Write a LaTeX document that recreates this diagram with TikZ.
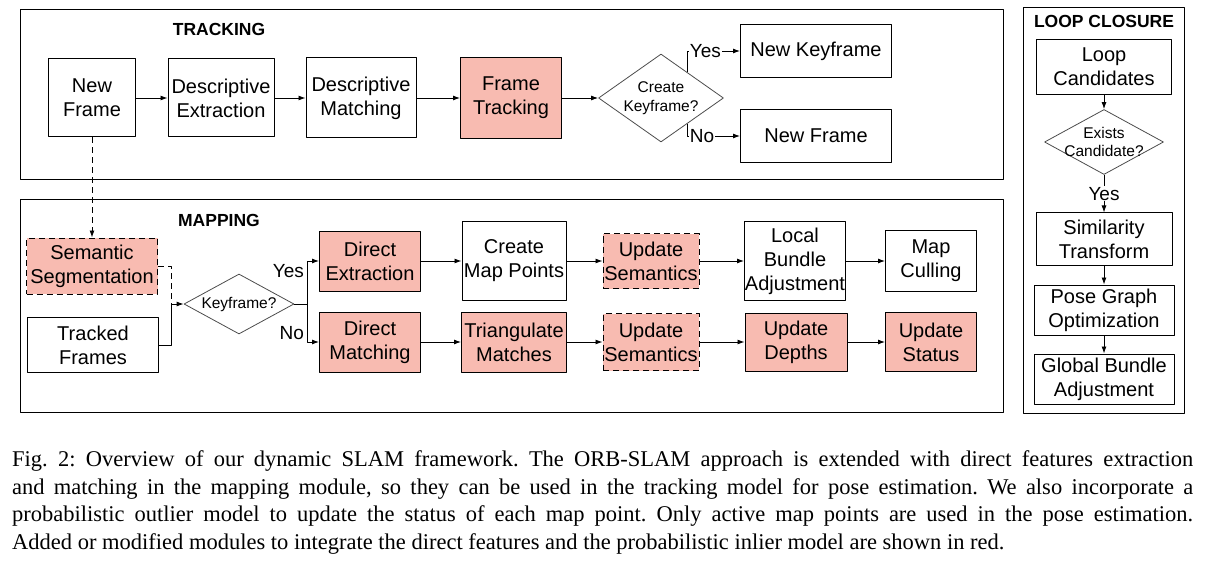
\documentclass[tikz,border=0pt]{standalone}
\usepackage{fontspec}
\setmainfont{Liberation Serif}
\setsansfont{Liberation Sans}
\usetikzlibrary{shapes.geometric,arrows.meta,calc}

\definecolor{modred}{RGB}{248,187,177}
\frenchspacing

\begin{document}
\begin{tikzpicture}[x=1pt,y=-1pt, line join=round, >={Latex[length=7pt,width=5pt]}]
	\tikzset{blk/.style={draw, line width=1pt, align=center, inner sep=0pt, font=\sffamily\fontsize{20}{24}\selectfont},
		mod/.style={blk, fill=modred},
		semblk/.style={mod, dash pattern=on 6pt off 4pt},
		dec/.style={diamond, draw=black!70, line width=0.8pt, inner sep=0pt},
		dectext/.style={align=center, inner sep=0pt, font=\sffamily\fontsize{15.5}{18.5}\selectfont},
		lbl/.style={font=\sffamily\fontsize{19}{22}\selectfont, inner sep=1pt},
		sec/.style={font=\sffamily\bfseries\fontsize{17.5}{20}\selectfont},
		frm/.style={draw, line width=1pt},
		conn/.style={->, line width=0.9pt}}
	\useasboundingbox (0,0) rectangle (1207,564);
	% tracking
	\draw[frm] (20,10) rectangle (1003,180);
	\node[sec] (trk) at (219,29) {TRACKING};
	\node[blk, minimum width=87, minimum height=78] (nf) at (92,98) {New\\Frame};
	\node[blk, minimum width=106, minimum height=78] (dx) at (221,98) {Descriptive\\Extraction};
	\node[blk, minimum width=110, minimum height=80] (dmt) at (361,98) {Descriptive\\Matching};
	\node[mod, minimum width=101, minimum height=81] (ft) at (511,98) {Frame\\Tracking};
	\node[dec, minimum width=125, minimum height=88] (ck) at (661,98) {};
	\node[dectext] (ckt) at (ck) {Create\\Keyframe?};
	\node[blk, minimum width=151, minimum height=53] (nk) at (816,51) {New Keyframe};
	\node[blk, minimum width=151, minimum height=53] (nf2) at (816,136) {New Frame};
	\draw[conn] (nf) -- (dx);
	\draw[conn] (dx) -- (dmt);
	\draw[conn] (dmt) -- (ft);
	\draw[conn] (ft) -- (ck);
	\draw[conn] ($(ck.north)!0.42!(ck.east)$) |- node[lbl, fill=white, pos=0.5, anchor=west, xshift=1pt]{Yes} (nk.west);
	\draw[conn] ($(ck.south)!0.42!(ck.east)$) |- node[lbl, fill=white, pos=0.5, anchor=west, xshift=1pt]{No} (nf2.west);
	% mapping
	\draw[frm] (20,200) rectangle (1003,412);
	\node[sec] (mpg) at (219,220) {MAPPING};
	\node[semblk, minimum width=131, minimum height=56] (ss) at (92,266) {Semantic\\Segmentation};
	\node[blk, minimum width=131, minimum height=55] (tf) at (93,345) {Tracked\\Frames};
	\node[dec, minimum width=110, minimum height=60] (kf) at (239,304) {};
	\node[dectext] (kft) at (kf) {Keyframe?};
	\node[mod, minimum width=101, minimum height=60] (de) at (370,261) {Direct\\Extraction};
	\node[mod, minimum width=101, minimum height=60] (dm) at (370,342) {Direct\\Matching};
	\node[blk, minimum width=104, minimum height=78] (cmp) at (514,261) {Create\\Map Points};
	\node[mod, minimum width=105, minimum height=60] (tm) at (514,342) {Triangulate\\Matches};
	\node[semblk, minimum width=96, minimum height=55] (us1) at (651,261) {Update\\Semantics};
	\node[semblk, minimum width=96, minimum height=57] (us2) at (651,342) {Update\\Semantics};
	\node[blk, minimum width=101, minimum height=78] (lba) at (795,261) {Local\\Bundle\\Adjustment};
	\node[mod, minimum width=102, minimum height=58] (ud) at (796,342) {Update\\Depths};
	\node[blk, minimum width=91, minimum height=61] (mc) at (931,261) {Map\\Culling};
	\node[mod, minimum width=91, minimum height=59] (ust) at (931,342) {Update\\Status};
	\coordinate (mj) at (171,304);
	\draw[conn, dash pattern=on 6pt off 4pt] (nf) -- (ss);
	\draw[line width=0.9pt, dash pattern=on 6pt off 4pt] (ss.east) -| (mj);
	\draw[line width=0.9pt] (tf.east) -| (mj);
	\draw[conn] (mj) -- (kf.west);
	\draw[line width=0.9pt] (kf.east) -- ++(13,0) coordinate (sj);
	\draw[conn] (sj) |- node[lbl, pos=0.38, left=2pt]{Yes} (de.west);
	\draw[conn] (sj) |- node[lbl, pos=0.38, left=2pt]{No} (dm.west);
	\draw[conn] (de) -- (cmp);
	\draw[conn] (cmp) -- (us1);
	\draw[conn] (us1) -- (lba);
	\draw[conn] (lba) -- (mc);
	\draw[conn] (dm) -- (tm);
	\draw[conn] (tm) -- (us2);
	\draw[conn] (us2) -- (ud);
	\draw[conn] (ud) -- (ust);
	% loop closure
	\draw[frm] (1023,8) rectangle (1184,413);
	\node[sec] (lcl) at (1104,21) {LOOP CLOSURE};
	\node[blk, minimum width=135, minimum height=55] (lc) at (1104,67) {Loop\\Candidates};
	\node[dec, minimum width=119, minimum height=65] (ec) at (1104,142) {};
	\node[dectext] (ect) at (ec) {Exists\\Candidate?};
	\node[blk, minimum width=136, minimum height=52] (st) at (1104,239) {Similarity\\Transform};
	\node[blk, minimum width=140, minimum height=50] (pg) at (1104,310) {Pose Graph\\Optimization};
	\node[blk, minimum width=140, minimum height=50] (gb) at (1104,379) {Global Bundle\\Adjustment};
	\draw[conn] (lc) -- (ec);
	\draw[conn] (ec) -- node[lbl, fill=white]{Yes} (st);
	\draw[conn] (st) -- (pg);
	\draw[conn] (pg) -- (gb);
	% caption
	\node[anchor=north west, text width=1181, align=justify, inner sep=0pt, font=\fontsize{22.5}{27.7}\selectfont] (cap) at (12,450.5)
	{Fig. 2: Overview of our dynamic SLAM framework. The ORB-SLAM approach is extended with direct features extraction\linebreak
	and matching in the mapping module, so they can be used in the tracking model for pose estimation. We also incorporate a\linebreak
	probabilistic outlier model to update the status of each map point. Only active map points are used in the pose estimation.\linebreak
	Added or modified modules to integrate the direct features and the probabilistic inlier model are shown in red.};
\end{tikzpicture}
\end{document}
